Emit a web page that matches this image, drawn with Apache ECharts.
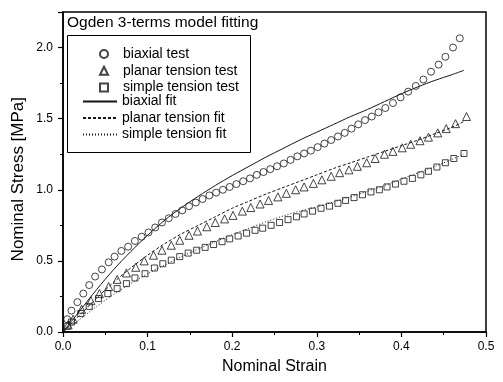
<!DOCTYPE html>
<html>
<head>
<meta charset="utf-8">
<script src="https://cdn.jsdelivr.net/npm/echarts@6/dist/echarts.min.js"></script>
<style>
  html, body { margin: 0; padding: 0; background: #fff; }
  #chart { width: 503px; height: 382px; }
</style>
</head>
<body>
<div id="chart"></div>
<script>
window.onload = init;

let chart;

// test data
const biaxialStrain = [0.005, 0.010, 0.017, 0.024, 0.031, 0.038, 0.046, 0.054, 0.061, 0.069, 0.077, 0.085, 0.093, 0.101, 0.109, 0.117, 0.125, 0.133, 0.141, 0.149, 0.157, 0.165, 0.173, 0.181, 0.189, 0.197, 0.205, 0.213, 0.221, 0.229, 0.237, 0.245, 0.253, 0.261, 0.269, 0.277, 0.285, 0.293, 0.301, 0.309, 0.317, 0.325, 0.333, 0.341, 0.349, 0.357, 0.365, 0.373, 0.381, 0.390, 0.399, 0.408, 0.417, 0.426, 0.435, 0.444, 0.452, 0.461, 0.469];
const biaxialStress = [0.09, 0.15, 0.21, 0.27, 0.33, 0.39, 0.44, 0.49, 0.53, 0.57, 0.60, 0.64, 0.67, 0.70, 0.735, 0.77, 0.80, 0.83, 0.855, 0.885, 0.91, 0.935, 0.96, 0.98, 1.00, 1.02, 1.04, 1.06, 1.08, 1.105, 1.125, 1.145, 1.165, 1.185, 1.21, 1.235, 1.255, 1.275, 1.30, 1.325, 1.35, 1.375, 1.40, 1.43, 1.46, 1.49, 1.515, 1.545, 1.575, 1.61, 1.65, 1.69, 1.73, 1.775, 1.83, 1.88, 1.935, 2.00, 2.065];

const planarStrain = [0.006, 0.012, 0.022, 0.033, 0.043, 0.054, 0.064, 0.075, 0.086, 0.096, 0.107, 0.117, 0.128, 0.138, 0.149, 0.159, 0.170, 0.180, 0.191, 0.201, 0.212, 0.222, 0.233, 0.243, 0.254, 0.264, 0.275, 0.285, 0.296, 0.306, 0.317, 0.327, 0.338, 0.348, 0.359, 0.369, 0.380, 0.390, 0.401, 0.411, 0.422, 0.432, 0.443, 0.453, 0.464, 0.477];
const planarStress = [0.05, 0.09, 0.16, 0.22, 0.27, 0.32, 0.37, 0.415, 0.455, 0.50, 0.54, 0.575, 0.61, 0.645, 0.68, 0.71, 0.74, 0.77, 0.795, 0.82, 0.85, 0.875, 0.90, 0.925, 0.95, 0.975, 1.00, 1.02, 1.045, 1.07, 1.095, 1.12, 1.14, 1.165, 1.19, 1.22, 1.25, 1.27, 1.295, 1.32, 1.345, 1.37, 1.40, 1.43, 1.465, 1.515];

const simpleStrain = [0.005, 0.010, 0.021, 0.031, 0.042, 0.053, 0.064, 0.075, 0.085, 0.097, 0.108, 0.118, 0.128, 0.138, 0.148, 0.158, 0.168, 0.178, 0.188, 0.197, 0.207, 0.217, 0.227, 0.236, 0.246, 0.256, 0.266, 0.276, 0.285, 0.295, 0.305, 0.315, 0.325, 0.334, 0.344, 0.354, 0.364, 0.374, 0.383, 0.393, 0.403, 0.413, 0.423, 0.432, 0.442, 0.452, 0.462, 0.474];
const simpleStress = [0.04, 0.07, 0.13, 0.18, 0.235, 0.27, 0.305, 0.34, 0.38, 0.41, 0.45, 0.48, 0.505, 0.53, 0.555, 0.575, 0.595, 0.615, 0.635, 0.655, 0.675, 0.695, 0.715, 0.73, 0.75, 0.77, 0.79, 0.81, 0.83, 0.85, 0.87, 0.885, 0.905, 0.925, 0.945, 0.965, 0.985, 1.00, 1.02, 1.04, 1.06, 1.08, 1.105, 1.13, 1.16, 1.19, 1.22, 1.255];

// model curves
const fitStrain = [0, 0.01, 0.02, 0.04, 0.06, 0.08, 0.10, 0.12, 0.14, 0.16, 0.18, 0.20, 0.22, 0.24, 0.26, 0.28, 0.30, 0.32, 0.34, 0.36, 0.38, 0.40, 0.42, 0.44, 0.46, 0.474];
const biaxialFit = [0, 0.075, 0.15, 0.30, 0.44, 0.565, 0.68, 0.785, 0.875, 0.955, 1.03, 1.10, 1.165, 1.23, 1.29, 1.35, 1.405, 1.46, 1.515, 1.565, 1.62, 1.675, 1.725, 1.77, 1.81, 1.84];
const planarFit = [0, 0.06, 0.12, 0.24, 0.35, 0.45, 0.54, 0.62, 0.69, 0.75, 0.81, 0.87, 0.92, 0.97, 1.015, 1.06, 1.105, 1.15, 1.19, 1.23, 1.27, 1.31, 1.35, 1.395, 1.44, 1.48];
const simpleFit = [0, 0.045, 0.09, 0.18, 0.265, 0.34, 0.41, 0.47, 0.53, 0.585, 0.635, 0.685, 0.73, 0.775, 0.815, 0.85, 0.88, 0.915, 0.95, 0.99, 1.03, 1.075, 1.12, 1.165, 1.215, 1.25];

const testNames = ['biaxial test', 'planar tension test', 'simple tension test'];
const fitNames = ['biaxial fit', 'planar tension fit', 'simple tension fit'];

function pairs(xs, ys) {
    return xs.map((x, i) => [x, ys[i]]);
}

function init() {
    chart = echarts.init(document.getElementById('chart'));
    drawChart();
}

function drawChart() {
    const font = 'Liberation Sans, Arial, sans-serif';
    const ink = '#151515';
    const legendText = { fontFamily: font, fontSize: 14, color: '#000' };

    // hollow markers, lines stay visible through them
    const marker = (name, symbol, size, data) => ({
        name: name,
        type: 'scatter',
        symbol: symbol,
        symbolSize: size,
        data: data,
        itemStyle: { color: 'rgba(255,255,255,0)', borderColor: ink, borderWidth: 1 },
        z: 3
    });

    const curve = (name, data, dash) => ({
        name: name,
        type: 'line',
        smooth: 0.3,
        showSymbol: false,
        symbol: 'none',
        data: data,
        lineStyle: { color: ink, width: 1, type: dash },
        // transparent so the legend shows only the line
        itemStyle: { color: 'rgba(0,0,0,0)' },
        z: 2
    });

    let options = {
        animation: false,
        backgroundColor: '#fff',
        textStyle: { fontFamily: font, color: '#000' },
        title: {
            text: 'Ogden 3-terms model fitting',
            left: 67,
            top: 15,
            padding: 0,
            textStyle: { fontFamily: font, fontSize: 15.5, fontWeight: 'normal', color: '#000' }
        },
        // two legends: small square box for the markers, long box for the lines
        legend: [{
            orient: 'vertical',
            left: 99,
            top: 47,
            padding: 0,
            itemWidth: 8,
            itemHeight: 8,
            itemGap: 2.8,
            selectedMode: false,
            data: testNames,
            textStyle: Object.assign({ padding: [0, 0, 0, 10] }, legendText)
        }, {
            orient: 'vertical',
            left: 82,
            top: 94.5,
            padding: 0,
            itemWidth: 34,
            itemHeight: 8,
            itemGap: 2.5,
            selectedMode: false,
            data: fitNames,
            textStyle: legendText
        }],
        grid: {
            left: 63,
            right: 17,
            top: 12,
            bottom: 50,
            show: true,
            borderColor: '#000',
            borderWidth: 1.5
        },
        xAxis: {
            type: 'value',
            min: 0,
            max: 0.5,
            interval: 0.1,
            name: 'Nominal Strain',
            nameLocation: 'middle',
            nameGap: 27,
            nameTextStyle: { fontFamily: font, fontSize: 16, color: '#000' },
            axisLine: { onZero: false, lineStyle: { color: '#000', width: 1.5 } },
            axisTick: { length: 5, lineStyle: { color: '#000', width: 1.2 } },
            minorTick: { show: true, splitNumber: 2, length: 3, lineStyle: { color: '#000' } },
            splitLine: { show: false },
            axisLabel: { fontFamily: font, fontSize: 12, color: '#000', margin: 9, formatter: v => v.toFixed(1) }
        },
        yAxis: {
            type: 'value',
            min: 0,
            max: 2.25,
            interval: 0.5,
            axisLine: { onZero: false, lineStyle: { color: '#000', width: 1.5 } },
            axisTick: { length: 5, lineStyle: { color: '#000', width: 1.2 } },
            minorTick: { show: true, splitNumber: 2, length: 3, lineStyle: { color: '#000' } },
            splitLine: { show: false },
            axisLabel: {
                fontFamily: font, fontSize: 12, color: '#000', margin: 10,
                showMaxLabel: false,
                formatter: v => (Math.abs(v / 0.5 - Math.round(v / 0.5)) < 1e-6 ? v.toFixed(1) : '')
            }
        },
        graphic: [{
            // frame around both legends
            type: 'rect',
            shape: { x: 67.5, y: 35.5, width: 183, height: 117 },
            style: { fill: 'rgba(0,0,0,0)', stroke: '#000', lineWidth: 1 },
            z: 1
        }, {
            type: 'text',
            left: 10,
            top: 97,
            rotation: Math.PI / 2,
            style: {
                text: 'Nominal Stress [MPa]',
                font: '17px ' + font,
                fill: '#000'
            }
        }],
        series: [
            marker(testNames[0], 'circle', 7, pairs(biaxialStrain, biaxialStress)),
            marker(testNames[1], 'triangle', 8, pairs(planarStrain, planarStress)),
            marker(testNames[2], 'rect', 6, pairs(simpleStrain, simpleStress)),
            curve(fitNames[0], pairs(fitStrain, biaxialFit), 'solid'),
            curve(fitNames[1], pairs(fitStrain, planarFit), [3, 2]),
            curve(fitNames[2], pairs(fitStrain, simpleFit), [1, 2])
        ]
    };

    chart.clear();
    chart.setOption(options);
}
</script>
</body>
</html>
